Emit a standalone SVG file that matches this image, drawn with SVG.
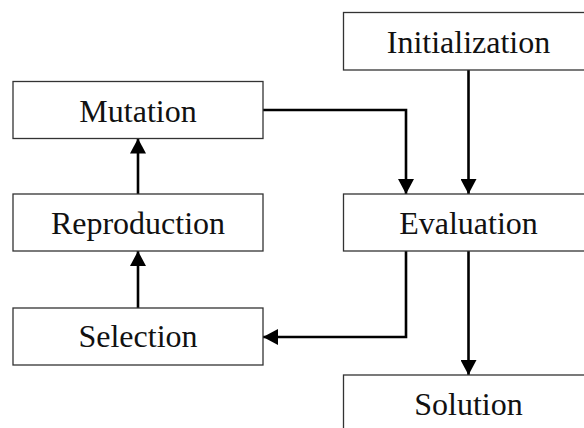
<svg xmlns="http://www.w3.org/2000/svg" width="584" height="428" viewBox="0 0 584 428">
<style>
.box{fill:#fff;stroke:#333;stroke-width:1.3}
.lbl{font-family:'Liberation Serif','Times New Roman',serif;font-size:32px;fill:#111;text-anchor:middle}
.conn{fill:none;stroke:#000;stroke-width:2.6;marker-end:url(#ah)}
</style>
<defs>
<marker id="ah" markerUnits="userSpaceOnUse" markerWidth="16" markerHeight="16" refX="15" refY="8" orient="auto">
<path d="M0,0 L15,8 L0,16 z" fill="#000"/>
</marker>
</defs>
<g id="connectors">
<path class="conn" d="M468.5,70 V194"/>
<path class="conn" d="M263,110 H406 V194"/>
<path class="conn" d="M406,251 V337 H263"/>
<path class="conn" d="M468.5,251 V375"/>
<path class="conn" d="M138,308 V251"/>
<path class="conn" d="M138,194 V138.5"/>
</g>
<g id="initialization"><rect class="box" x="343.5" y="12.5" width="250" height="57.5"/><text class="lbl" x="468.5" y="53">Initialization</text></g>
<g id="mutation"><rect class="box" x="13" y="81.5" width="250" height="57"/><text class="lbl" x="138" y="121.5">Mutation</text></g>
<g id="reproduction"><rect class="box" x="13" y="194" width="250" height="57"/><text class="lbl" x="138" y="234">Reproduction</text></g>
<g id="evaluation"><rect class="box" x="343.5" y="194" width="250" height="57"/><text class="lbl" x="468.5" y="234">Evaluation</text></g>
<g id="selection"><rect class="box" x="13" y="308" width="250" height="57"/><text class="lbl" x="138" y="347">Selection</text></g>
<g id="solution"><rect class="box" x="343.5" y="375" width="250" height="57"/><text class="lbl" x="468.5" y="415">Solution</text></g>
</svg>
